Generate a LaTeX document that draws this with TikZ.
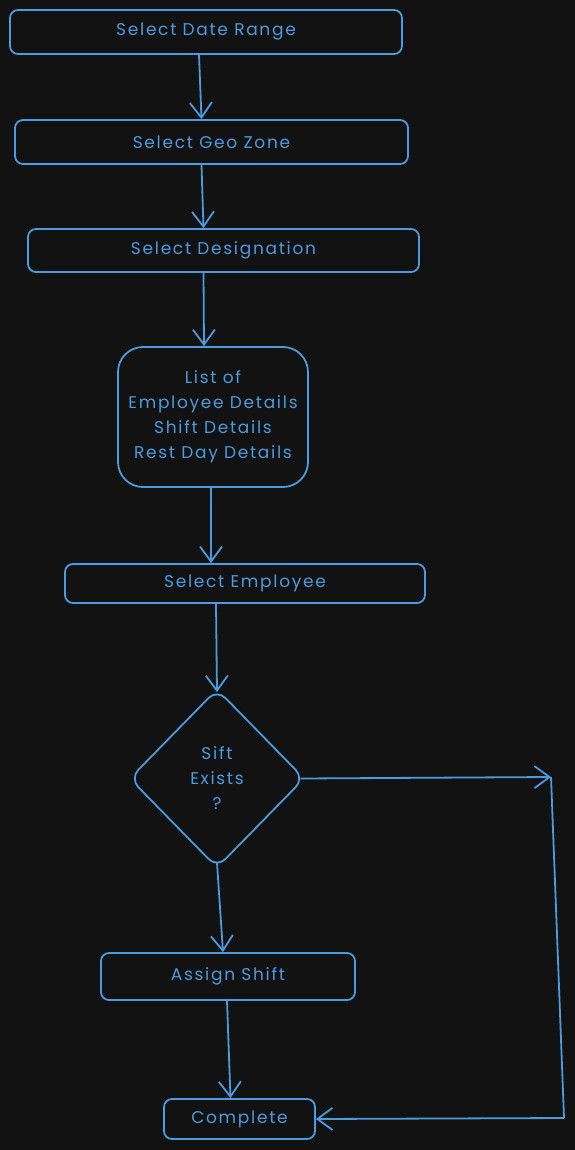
\documentclass[tikz,border=0pt]{standalone}
\usepackage{fontspec}
\setmainfont{Poppins}[LetterSpace=10]
\usetikzlibrary{shapes.geometric,arrows.meta}
\begin{document}
\begin{tikzpicture}[x=1pt, y=-1pt,
  every node/.style={align=center, text=ink, font=\fontsize{17}{25}\selectfont},
  stepbox/.style={draw=ink, line width=1.8pt, rounded corners=8pt, inner sep=0pt},
  decide/.style={draw=ink, line width=1.8pt, diamond, rounded corners=12pt, inner sep=0pt},
  flow/.style={draw=ink, line width=1.8pt, -{Straight Barb[length=15pt,width=22pt]}}]
  % Shift assignment flow
  \definecolor{ink}{HTML}{4A9BE0}
  \definecolor{night}{HTML}{121212}
  \fill[night] (0,0) rectangle (575,1150);

  \node[stepbox, minimum width=392pt, minimum height=44pt] (range) at (206,32) {Select Date Range};
  \node[stepbox, minimum width=393pt, minimum height=44pt] (zone) at (211.5,142) {Select Geo Zone};
  \node[stepbox, minimum width=391pt, minimum height=43pt] (desig) at (223.5,250.5) {Select Designation};
  \node[stepbox, rounded corners=25pt, minimum width=190pt, minimum height=140pt] (list) at (213,417)
    {List of\\Employee Details\\Shift Details\\Rest Day Details};
  \node[stepbox, minimum width=360pt, minimum height=39pt] (pick) at (245,583.5) {Select Employee};
  \node[decide, minimum width=175pt, minimum height=179pt] (check) at (217,778.5) {Sift\\Exists\\?};
  \node[stepbox, minimum width=254pt, minimum height=47pt] (assign) at (228,976.5) {Assign Shift};
  \node[stepbox, minimum width=151pt, minimum height=40pt] (done) at (239.5,1119) {Complete};

  \coordinate (turn) at (551,777);
  \coordinate (bend) at (564,1118);

  \draw[flow] ([xshift=-7pt]range.south) -- ([xshift=-10pt]zone.north);
  \draw[flow] ([xshift=-10pt]zone.south) -- ([xshift=-20pt]desig.north);
  \draw[flow] ([xshift=-20pt]desig.south) -- ([xshift=-9pt]list.north);
  \draw[flow] ([xshift=-2pt]list.south) -- ([xshift=-34pt]pick.north);
  \draw[flow] ([xshift=-29pt]pick.south) -- ([yshift=-4pt]check.north);
  \draw[flow] ([yshift=6pt]check.south) -- ([xshift=-5pt]assign.north);
  \draw[flow] ([xshift=-1pt]assign.south) -- ([xshift=-9pt]done.north);
  \draw[flow] ([xshift=-5pt]check.east) -- (turn);
  \draw[draw=ink, line width=1.8pt] (turn) -- (bend);
  \draw[flow] (bend) -- (done.east);
\end{tikzpicture}
\end{document}
